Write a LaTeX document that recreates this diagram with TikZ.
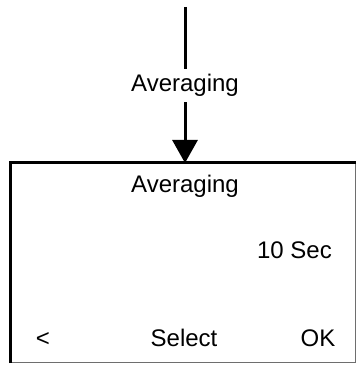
\documentclass[tikz,border=0pt]{standalone}
\usepackage{fontspec}
\setmainfont{Liberation Sans}
\usepackage{xcolor}
\usepackage{tikz}
\usetikzlibrary{arrows.meta,positioning,calc}
\definecolor{edgegray}{RGB}{110,110,110}
\tikzset{
  screenbox/.style={
    rectangle,
    draw=edgegray,
    line width=0.9pt,
    minimum width=345*0.75pt,
    minimum height=199*0.75pt,
    anchor=north west,
    inner sep=0pt
  },
  txt/.style={
    font=\fontsize{18}{20}\selectfont,
    anchor=base,
    inner sep=0pt
  },
  flowlabel/.style={
    font=\fontsize{18}{20}\selectfont,
    anchor=base,
    inner xsep=2pt,
    inner ysep=3.75pt
  },
  heavy/.style={line width=2.25pt, black},
  flow/.style={-{Triangle[width=18.75pt,length=17.25pt]}, line width=2.25pt, black}
}

\begin{document}
\begin{tikzpicture}[x=0.75pt,y=-0.75pt]
\useasboundingbox (0,0) rectangle (357,366);
\coordinate (src) at (185,7);
\node[flowlabel] (lbl) at (185,92) {Averaging};
\node[screenbox] (screen) at (10,163) {};
\draw[heavy] (screen.south west) -- (screen.north west) -- (screen.north east);
\node[txt] (title) at (185,192) {Averaging};
\node[txt] (value) at (294.5,258) {10 Sec};
\node[txt] (back) at (43,346) {<};
\node[txt] (select) at (184,346) {Select};
\node[txt] (ok) at (318,346) {OK};
\draw[heavy] (src) -- (lbl.north);
\draw[flow] (lbl.south) -- (lbl.south |- screen.north);
\end{tikzpicture}
\end{document}
